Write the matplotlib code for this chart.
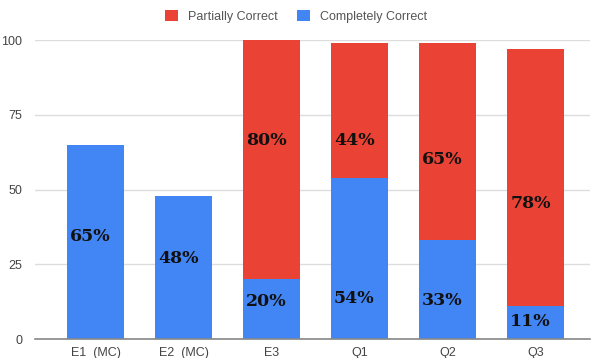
import matplotlib.pyplot as plt

# Data
categories = ['E1  (MC)', 'E2  (MC)', 'E3', 'Q1', 'Q2', 'Q3']
completely = [65, 48, 20, 54, 33, 11]
partially = [0, 0, 80, 45, 66, 86]

# Text labels drawn on the bars (as shown in the chart)
blue_labels = ['65%', '48%', '20%', '54%', '33%', '11%']
blue_label_y = [34.4, 27, 12.4, 13.7, 13, 5.7]
red_labels = ['', '', '80%', '44%', '65%', '78%']
red_label_y = [0, 0, 66.5, 66.5, 60, 45.5]

red = '#EA4335'
blue = '#4285F4'

fig = plt.figure(figsize=(5.92, 3.58), dpi=100)
ax = fig.add_axes([0.059, 0.053, 0.938, 0.835])

x = range(len(categories))
ax.bar(x, completely, width=0.65, color=blue, label='Completely Correct', zorder=2)
ax.bar(x, partially, width=0.65, bottom=completely, color=red,
       label='Partially Correct', zorder=2)

for i in x:
    ax.text(i - 0.06, blue_label_y[i], blue_labels[i], ha='center', va='center',
            fontsize=12.5, fontweight='bold', family='DejaVu Serif', color='#111111', zorder=3)
    if red_labels[i]:
        ax.text(i - 0.06, red_label_y[i], red_labels[i], ha='center', va='center',
                fontsize=12.5, fontweight='bold', family='DejaVu Serif', color='#111111', zorder=3)

# Axes styling
ax.set_xlim(-0.69, 5.62)
ax.set_ylim(0, 100)
ax.set_yticks([0, 25, 50, 75, 100])
ax.set_xticks(list(x))
ax.set_xticklabels(categories)
ax.tick_params(axis='both', length=0, labelsize=9, labelcolor='#444444',
               labelfontfamily='Liberation Sans')
ax.tick_params(axis='y', pad=9)
ax.tick_params(axis='x', pad=6)
ax.grid(axis='y', color='#dddddd', linewidth=1, zorder=0)
for side in ['top', 'right', 'left']:
    ax.spines[side].set_visible(False)
ax.spines['bottom'].set_color('#888888')
ax.spines['bottom'].set_linewidth(1.2)
ax.spines['bottom'].set_zorder(4)

# Legend: red first
handles, labels = ax.get_legend_handles_labels()
fig.legend(handles[::-1], labels[::-1], loc='upper center', bbox_to_anchor=(0.5, 1.003),
           ncol=2, frameon=False, handlelength=1.0, handleheight=1.0,
           columnspacing=1.6, handletextpad=0.8,
           prop={'family': 'Liberation Sans', 'size': 9}, labelcolor='#555555')

plt.savefig('out.png', dpi=100)
